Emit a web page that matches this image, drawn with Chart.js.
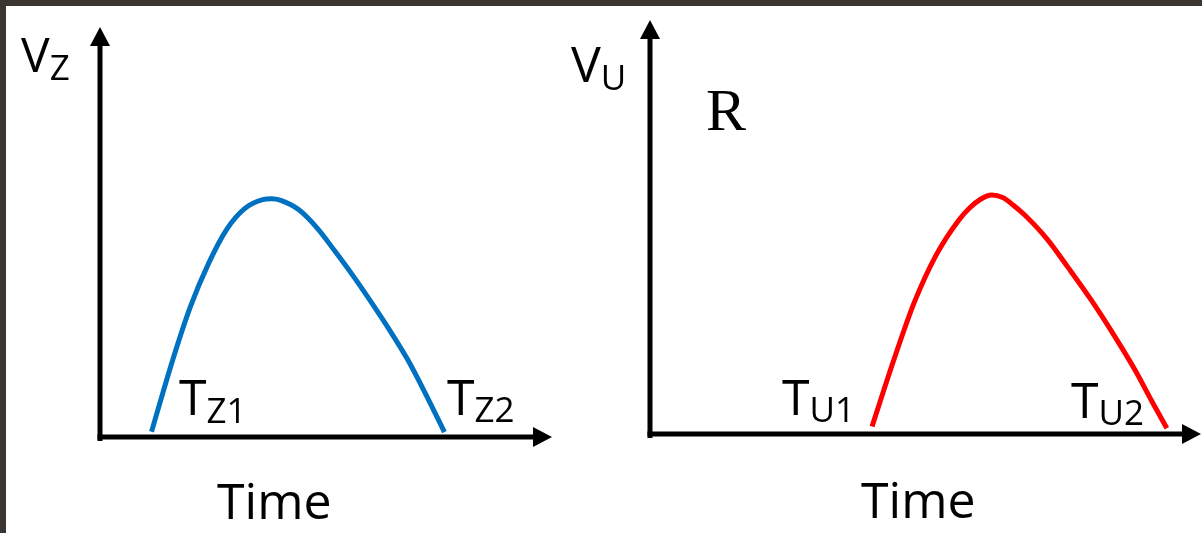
<!DOCTYPE html>
<html>
<head>
<meta charset="utf-8">
<script src="https://cdn.jsdelivr.net/npm/chart.js@4"></script>
<style>
  html, body { margin: 0; padding: 0; background: #ffffff; }
  #wrap { position: relative; width: 1202px; height: 533px; overflow: hidden; background: #ffffff; }
  #wrap canvas { position: absolute; top: 0; }
  #leftChart { left: 0; }
  #rightChart { left: 600px; }
  .edgeTop { position: absolute; left: 0; top: 0; width: 1202px; height: 6px; background: #3a3530; }
  .edgeLeft { position: absolute; left: 0; top: 0; width: 6px; height: 533px; background: #3a3530; }
  .lbl { position: absolute; font-family: "Open Sans", sans-serif; line-height: 1; color: #000; white-space: nowrap; }
  .lbl span { position: relative; }
  .serif { font-family: "Liberation Serif", "DejaVu Serif", serif; }
</style>
</head>
<body>
<div id="wrap">
  <canvas id="leftChart" width="600" height="533"></canvas>
  <canvas id="rightChart" width="602" height="533"></canvas>

  <div class="lbl" style="left:21px; top:30px; font-size:48px;">V<span style="font-size:35px; top:8px;">Z</span></div>
  <div class="lbl" style="left:571px; top:38px; font-size:50px;">V<span style="font-size:35px; top:8px;">U</span></div>
  <div class="lbl serif" style="left:706px; top:80px; font-size:60px;">R</div>

  <div class="lbl" style="left:179px; top:371px; font-size:50px;">T<span style="font-size:35px; top:8px;">Z1</span></div>
  <div class="lbl" style="left:447px; top:371px; font-size:50px;">T<span style="font-size:35px; top:7px;">Z2</span></div>
  <div class="lbl" style="left:782px; top:371px; font-size:50px;">T<span style="font-size:35px; top:7px;">U1</span></div>
  <div class="lbl" style="left:1071px; top:374px; font-size:50px;">T<span style="font-size:35px; top:7px;">U2</span></div>

  <div class="lbl" style="left:217px; top:475px; font-size:50px;">Time</div>
  <div class="lbl" style="left:861px; top:474px; font-size:50px;">Time</div>

  <div class="edgeTop"></div>
  <div class="edgeLeft"></div>
</div>

<script>
// left panel (blue), time vs V_Z, both axes 0..100
const zTime = [11.4, 16, 20, 24, 28, 32, 36, 38, 40, 44, 48, 52, 56, 60, 64, 68, 72, 76.2];
const zValues = [1.3, 18.5, 31.8, 42.3, 50.6, 55.7, 57.9, 58.1, 57.7, 55.4, 51.0,
                 45.3, 39.3, 32.9, 26.2, 19.0, 10.6, 1.2];

// right panel (red), time vs V_U
const uTime = [40.3, 44, 48, 52, 56, 58, 60, 62, 64, 66, 68, 72, 76, 80, 84, 88, 91, 93.8];
const uValues = [1.8, 16.9, 31.9, 43.4, 51.6, 54.6, 56.7, 57.7, 57.1, 55.2, 52.9,
                 47.2, 40.0, 32.5, 24.3, 15.5, 8.1, 1.4];

const axisRange = [0, 100];

// draws the two axis lines with arrow heads at the scale origin
const arrowAxes = {
    id: 'arrowAxes',
    beforeDatasetsDraw(chart) {
        const ctx = chart.ctx;
        const xs = chart.scales.x;
        const ys = chart.scales.y;
        const x0 = xs.getPixelForValue(axisRange[0]);
        const y0 = ys.getPixelForValue(axisRange[0]);
        const xEnd = xs.getPixelForValue(axisRange[1]);
        const yEnd = ys.getPixelForValue(axisRange[1]);
        ctx.save();
        ctx.strokeStyle = '#000';
        ctx.fillStyle = '#000';
        ctx.lineWidth = 5;
        ctx.lineCap = 'butt';
        // y axis
        ctx.beginPath();
        ctx.moveTo(x0, y0 + 4);
        ctx.lineTo(x0, yEnd + 16);
        ctx.stroke();
        ctx.beginPath();
        ctx.moveTo(x0, yEnd);
        ctx.lineTo(x0 - 10, yEnd + 19);
        ctx.lineTo(x0 + 10, yEnd + 19);
        ctx.closePath();
        ctx.fill();
        // x axis
        ctx.beginPath();
        ctx.moveTo(x0 - 2.5, y0);
        ctx.lineTo(xEnd - 16, y0);
        ctx.stroke();
        ctx.beginPath();
        ctx.moveTo(xEnd, y0);
        ctx.lineTo(xEnd - 19, y0 - 10);
        ctx.lineTo(xEnd - 19, y0 + 10);
        ctx.closePath();
        ctx.fill();
        ctx.restore();
    },
};

function makeCurve(canvasId, times, values, color, padding) {
    new Chart(document.getElementById(canvasId), {
        type: 'line',
        data: {
            datasets: [{
                data: times.map((t, i) => ({ x: t, y: values[i] })),
                borderColor: color,
                borderWidth: 5,
                borderCapStyle: 'butt',
                pointRadius: 0,
                fill: false,
                cubicInterpolationMode: 'monotone',
            }],
        },
        options: {
            responsive: false,
            animation: false,
            clip: false,
            layout: { padding: padding },
            scales: {
                x: { type: 'linear', min: axisRange[0], max: axisRange[1], display: false },
                y: { min: axisRange[0], max: axisRange[1], display: false },
            },
            plugins: {
                legend: { display: false },
                tooltip: { enabled: false },
            },
        },
        plugins: [arrowAxes],
    });
}

makeCurve('leftChart', zTime, zValues, '#0070C0', { left: 100, right: 48, top: 27, bottom: 96 });
makeCurve('rightChart', uTime, uValues, '#FF0000', { left: 50, right: 1, top: 20, bottom: 99 });
</script>
</body>
</html>
